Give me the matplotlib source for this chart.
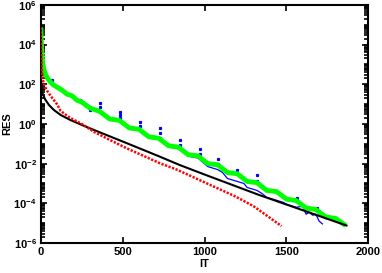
import matplotlib
matplotlib.use('Agg')
import matplotlib.pyplot as plt
import matplotlib.ticker as ticker
import numpy as np

plt.rcParams['font.family'] = ['Liberation Sans', 'DejaVu Sans']
plt.rcParams['font.weight'] = 'bold'
plt.rcParams['mathtext.fontset'] = 'custom'
plt.rcParams['mathtext.rm'] = 'Liberation Sans:bold'
plt.rcParams['mathtext.default'] = 'rm'

# log10(RES)
black_it = [0, 3, 10, 25, 50, 80, 121, 180, 250, 323, 525, 727, 848, 1000,
            1333, 1600, 1867]
black_lg = [2.0, 1.8, 1.55, 1.25, 0.95, 0.7, 0.45, 0.2, -0.05, -0.30, -0.97,
            -1.65, -2.07, -2.55, -3.58, -4.35, -5.12]

red_it = [0, 2, 5, 10, 20, 40, 70, 100, 121, 180, 250, 323, 420, 525, 630,
          727, 836, 988, 1100, 1192, 1300, 1394, 1470]
red_lg = [4.85, 4.0, 3.0, 2.3, 1.95, 1.65, 1.3, 0.98, 0.65, 0.3, 0.0, -0.39,
          -0.8, -1.23, -1.62, -1.98, -2.32, -2.9, -3.32, -3.67, -4.15, -4.7,
          -5.15]

green_it = [0, 3, 7, 12, 20, 30, 45, 60, 80, 100, 130, 160, 190, 220, 250,
            300, 360, 420, 480, 540, 600, 660, 720, 780, 840, 900, 960, 1020,
            1080, 1140, 1200, 1260, 1320, 1380, 1440, 1500, 1560, 1620, 1680,
            1740, 1800, 1850]
green_lg = [4.75, 4.1, 3.5, 3.0, 2.7, 2.45, 2.25, 2.1, 1.95, 1.85, 1.7, 1.5,
            1.42, 1.2, 1.1, 0.8, 0.63, 0.25, 0.18, -0.20, -0.27, -0.65, -0.72,
            -1.10, -1.17, -1.55, -1.61, -2.00, -2.06, -2.45, -2.51, -2.90,
            -2.96, -3.35, -3.41, -3.79, -3.86, -4.24, -4.31, -4.69, -4.76,
            -5.05]

blue_it = [0, 3, 7, 12, 20, 30, 45, 60, 80, 100, 130, 160, 190, 220, 250,
           300, 360, 420, 480, 540, 600, 660, 720, 780, 840, 900, 960, 1020,
           1080, 1110, 1140, 1200, 1240, 1260, 1320, 1350, 1380, 1440, 1480,
           1500, 1560, 1600, 1620, 1640, 1660, 1680, 1700, 1720]
blue_lg = [4.7, 4.05, 3.45, 2.95, 2.65, 2.4, 2.2, 2.05, 1.9, 1.8, 1.65, 1.45,
           1.37, 1.15, 1.05, 0.75, 0.58, 0.2, 0.12, -0.25, -0.32, -0.7, -0.78,
           -1.15, -1.25, -1.62, -1.72, -2.15, -2.3, -2.45, -2.75, -2.9, -3.0,
           -3.2, -3.35, -3.5, -3.7, -3.85, -3.95, -4.05, -4.2, -4.15, -4.55,
           -4.45, -4.6, -4.55, -4.9, -5.04]

spike_it = [67, 242, 303, 303, 364, 364, 485, 485, 485, 606, 606, 727, 727,
            727, 848, 848, 970, 970, 1085, 1085, 1200, 1321, 1321, 1442, 1564,
            1685]
spike_lg = [2.22, 1.21, 0.86, 0.70, 1.06, 0.86, 0.6, 0.45, 0.3, 0.1, -0.1,
            -0.2, -0.45, -0.7, -0.8, -1.05, -1.26, -1.5, -1.77, -2.0, -2.3,
            -2.57, -2.9, -3.43, -3.73, -4.24]


def plot():
    fig = plt.figure(figsize=(3.82, 2.73), dpi=100)
    ax = fig.add_axes([0.107, 0.11, 0.857, 0.872])

    ax.semilogy(blue_it, 10.0 ** np.array(blue_lg), color='#0000ff',
                linewidth=0.9, zorder=1)
    ax.semilogy(spike_it, 10.0 ** np.array(spike_lg), linestyle='none',
                marker='s', markersize=1.3, color='#0000ff', zorder=1)
    ax.semilogy(green_it, 10.0 ** np.array(green_lg), color='#00ff00',
                linewidth=3.5, zorder=2)
    ax.semilogy(black_it, 10.0 ** np.array(black_lg), color='black',
                linewidth=1.5, zorder=3)
    ax.semilogy(red_it, 10.0 ** np.array(red_lg), color='#ff0000',
                linewidth=1.8, linestyle=(0, (0.9, 0.6)), zorder=4)

    ax.set_xlim(0, 2000)
    ax.set_ylim(1e-6, 1e6)
    ax.set_xticks([0, 500, 1000, 1500, 2000])
    ax.set_yticks([1e-6, 1e-4, 1e-2, 1e0, 1e2, 1e4, 1e6])
    ax.yaxis.set_minor_locator(ticker.LogLocator(base=10, subs=np.arange(1, 10),
                                                 numticks=100))
    ax.yaxis.set_minor_formatter(ticker.NullFormatter())
    ax.tick_params(which='both', direction='in', top=True, right=True,
                   labelsize=8, width=1.2, pad=3)
    ax.tick_params(which='major', length=4)
    ax.tick_params(which='minor', length=3)
    for s in ax.spines.values():
        s.set_linewidth(1.5)

    ax.set_xlabel('IT', fontsize=8, fontweight='bold', labelpad=1)
    ax.set_ylabel('RES', fontsize=8, fontweight='bold', labelpad=1)

    fig.savefig('out.png', dpi=100)


if __name__ == '__main__':
    plot()
